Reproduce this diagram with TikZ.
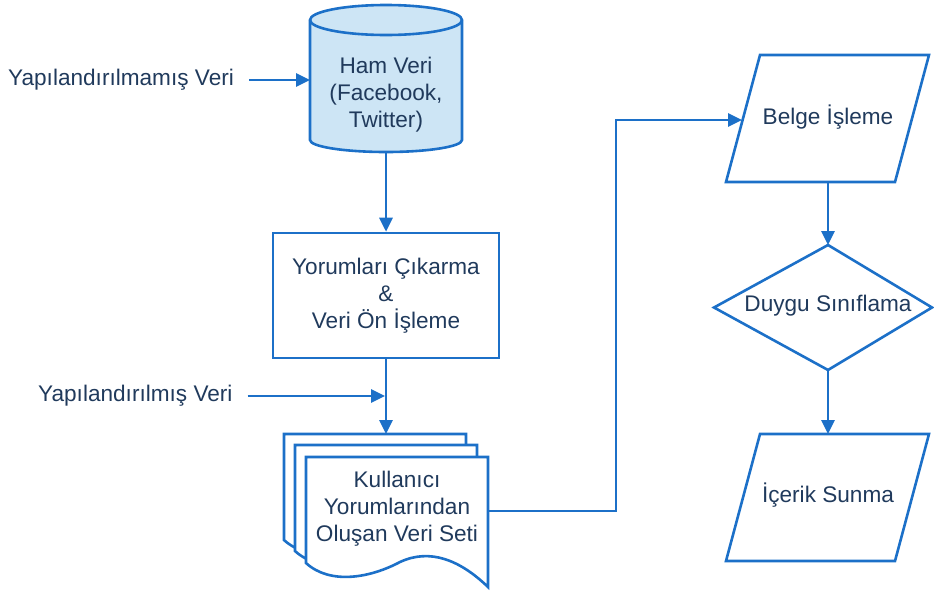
\documentclass[tikz,border=0pt]{standalone}
\usepackage{fontspec}
\setmainfont{Liberation Sans}
\usetikzlibrary{arrows.meta}
\definecolor{lineblue}{RGB}{28,112,200}
\definecolor{txt}{RGB}{32,58,92}
\definecolor{cylfill}{RGB}{205,229,245}
\begin{document}
\begin{tikzpicture}[x=1pt,y=-1pt,
  line/.style={draw=lineblue,line width=2.8pt},
  arr/.style={line,-{Triangle[length=14pt,width=13pt]}},
  lbl/.style={text=txt,font=\fontsize{22.6}{27}\selectfont,align=center,inner sep=0pt},
  shapeline/.style={draw=lineblue,line width=2.6pt,line join=miter}]
\useasboundingbox (0,0) rectangle (934,592);

% cylinder
\draw[shapeline,fill=cylfill] (310,20) -- (310,140)
  arc[start angle=180,end angle=360,x radius=76pt,y radius=12pt] -- (462,20)
  arc[start angle=0,end angle=180,x radius=76pt,y radius=15pt] -- cycle;
\draw[shapeline] (310,20) arc[start angle=180,end angle=360,x radius=76pt,y radius=15pt];
\coordinate (hamW) at (310,80);
\coordinate (hamS) at (386,152);
\node[lbl] (ham) at (386,95) {Ham Veri\\(Facebook,\\Twitter)};

\node[lbl,anchor=west] (unstr) at (8,80) {Yapılandırılmamış Veri};
\draw[arr] ([xshift=15pt]unstr.east) -- (hamW);

% rectangle
\node[lbl,draw=lineblue,line width=2.6pt,minimum width=226pt,minimum height=125pt] (cik) at (386,295.5)
  {Yorumları Çıkarma\\\&\\Veri Ön İşleme};
\draw[arr] (hamS) -- (cik.north);

% documents
\foreach \dx/\dy in {-22/-23,-11/-12,0/0}
  \draw[shapeline,fill=white,shift={(\dx,\dy)}] (306,457) -- (488,457) -- (488,587)
    .. controls (460,560) and (430,548) .. (400,562)
    .. controls (370,578) and (330,585) .. (306,563) -- cycle;
\coordinate (docN) at (386,434);
\coordinate (docE) at (488,511);
\node[lbl] (docs) at (397,508.5) {Kullanıcı\\Yorumlarından\\Oluşan Veri Seti};
\draw[arr] (cik.south) -- (docN);

\node[lbl,anchor=west] (str) at (38,396) {Yapılandırılmış Veri};
\coordinate (strEnd) at (385,396);
\draw[arr] ([xshift=15pt]str.east) -- (strEnd);

% Belge
\draw[shapeline] (760,55) -- (929,55) -- (895,182) -- (726,182) -- cycle;
\node[lbl] (belge) at (828,117) {Belge İşleme};
\coordinate (belgeW) at (742,120);
\coordinate (belgeS) at (828,182);
\draw[arr] (docE) -- ++(128,0) |- (belgeW);

% diamond
\coordinate (dN) at (828,245);
\coordinate (dE) at (932,307.5);
\coordinate (dS) at (828,370);
\coordinate (dW) at (714,307.5);
\draw[shapeline] (dN) -- (dE) -- (dS) -- (dW) -- cycle;
\node[lbl] (duygu) at (828,306) {Duygu Sınıflama};
\draw[arr] (belgeS) -- (dN);

% icerik
\draw[shapeline] (760,434) -- (929,434) -- (895,561) -- (726,561) -- cycle;
\node[lbl] (icerik) at (828,495) {İçerik Sunma};
\coordinate (icN) at (828,434);
\draw[arr] (dS) -- (icN);
\end{tikzpicture}
\end{document}
